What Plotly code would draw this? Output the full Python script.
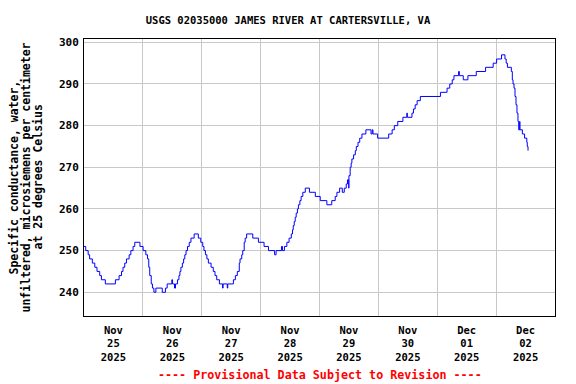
import pandas as pd
import plotly.graph_objects as go

# Hours after 2025-11-25 00:00 at which the reading changes, and the new reading (uS/cm)
hours = [0, 0.7, 1.7, 2.3, 3.4, 4.4, 5.3, 6.4, 7.1, 8.7, 12.8, 14.3, 15.3, 15.9, 16.6,
         17.3, 18.4, 19.1, 20.0, 20.7, 22.8, 24.1, 25.2, 25.9, 26.4, 26.8, 27.4, 27.9,
         28.5, 29.3, 31.9, 33.2, 33.9, 35.8, 36.1, 36.9, 37.3, 38.1, 38.7, 39.1, 39.5,
         40.1, 40.6, 41.1, 41.6, 42.2, 42.9, 43.6, 44.9, 46.6, 47.6, 48.4, 48.9, 49.5,
         50.1, 50.7, 51.8, 52.7, 53.4, 54.1, 55.2, 56.5, 56.7, 58.4, 58.6, 60.9, 61.7,
         62.5, 63.3, 63.6, 64.3, 64.7, 65.3, 65.7, 66.3, 68.8, 71.1, 73.4, 75.2, 77.7,
         78.3, 80.5, 80.9, 81.7, 82.7, 83.6, 84.5, 85.0, 85.3, 85.7, 86.1, 86.5, 87.0,
         87.4, 88.0, 88.5, 89.2, 90.2, 91.9, 94.3, 96.3, 99.0, 101.0, 102.4, 103.1,
         104.2, 105.3, 106.1, 106.9, 107.4, 107.9, 108.0, 108.5, 108.9, 109.2, 109.9,
         110.6, 111.0, 111.7, 112.4, 113.3, 114.9, 117.0, 117.5, 117.8, 119.7, 124.2,
         125.6, 126.5, 127.9, 130.0, 131.6, 131.8, 133.7, 134.3, 135.0, 135.8, 137.1,
         145.3, 148.0, 149.1, 150.1, 150.8, 152.7, 153.0, 154.6, 156.5, 159.9, 163.7,
         166.8, 168.2, 170.2, 171.6, 172.1, 172.6, 174.2, 174.6, 174.9, 175.3, 175.7,
         176.1, 176.5, 176.9, 177.2, 177.6, 177.7, 178.7, 179.6, 180.5, 180.7, 181.0]
values = [251, 250, 249, 248, 247, 246, 245, 244, 243, 242, 243, 244, 245, 246, 247,
          248, 249, 250, 251, 252, 251, 250, 249, 248, 246, 244, 242, 241,
          240, 241, 240, 241, 242, 243, 242, 241, 242, 243, 244, 245, 246,
          247, 248, 249, 250, 251, 252, 253, 254, 253, 252, 251, 250, 249,
          248, 247, 246, 245, 244, 243, 242, 241, 242, 241, 242, 243, 244,
          245, 247, 248, 249, 250, 252, 253, 254, 253, 252, 251, 250, 249,
          250, 251, 250, 251, 252, 253, 254, 255, 256, 257, 258, 259, 260,
          261, 262, 263, 264, 265, 264, 263, 262, 261, 262, 263, 264,
          265, 264, 265, 266, 267, 265, 268, 270, 271, 272, 273,
          274, 275, 276, 277, 278, 279, 278, 279, 278, 277, 278,
          279, 280, 281, 282, 283, 282, 283, 284, 285, 286, 287,
          288, 289, 290, 291, 292, 293, 292, 291, 292, 293, 294,
          295, 296, 297, 296, 295, 294, 293, 291, 290, 289, 287,
          285, 283, 281, 279, 281, 279, 278, 277, 276, 275, 274]

start = pd.Timestamp("2025-11-25 00:00")
times = [start + pd.Timedelta(hours=h) for h in hours]

y_ticks = [240, 250, 260, 270, 280, 290, 300]
x_range = ["2025-11-25 00:00", "2025-12-03 00:00"]
y_range = [234.3, 300.8]

title_text = "USGS 02035000 JAMES RIVER AT CARTERSVILLE, VA"
y_title_lines = ["Specific conductance, water,",
                 "unfiltered, microsiemens per centimeter",
                 "at 25 degrees Celsius"]
footnote = "---- Provisional Data Subject to Revision ----"

FONT = dict(family="DejaVu Sans Mono", size=10.5, color="black", weight="bold")
AXFONT = dict(family="DejaVu Sans Mono", size=11, color="black", weight="bold")
YTFONT = dict(family="DejaVu Sans Mono", size=11.5, color="black", weight="bold")

fig = go.Figure()
fig.add_trace(go.Scatter(x=times, y=values, mode="lines", line_shape="hv",
                         line=dict(color="#0000ff", width=1), showlegend=False,
                         hoverinfo="x+y"))

annotations = []
for i, line in enumerate(y_title_lines):
    annotations.append(dict(text=line, xref="paper", yref="paper", x=0, y=0.5,
                            xshift=-71 + 12 * i, xanchor="center", yanchor="middle",
                            textangle=-90, showarrow=False, font=YTFONT))
annotations.append(dict(text=footnote, xref="paper", yref="paper", x=0.5,
                        y=-(375 - 316) / 277, xanchor="center", yanchor="middle",
                        showarrow=False,
                        font=dict(family="DejaVu Sans Mono", size=11.7,
                                  color="#ff0000", weight="bold")))

fig.update_layout(
    width=576, height=384,
    margin=dict(l=84, r=21, t=39, b=68),
    paper_bgcolor="white", plot_bgcolor="white",
    font=FONT,
    title=dict(text=title_text, x=0.5, xref="container", xanchor="center",
               y=1 - 20 / 384, yref="container", yanchor="middle", font=FONT),
    xaxis=dict(range=x_range, type="date", dtick=86400000, tick0="2025-11-25",
               ticklabelmode="period", tickformat="%b<br>%d<br>%Y",
               showgrid=True, gridcolor="#c8c8c8", gridwidth=1,
               showline=True, linecolor="black", linewidth=1, mirror=True,
               ticks="", zeroline=False, tickfont=FONT, ticklabelstandoff=4,
               automargin=False),
    yaxis=dict(range=y_range, tickvals=y_ticks,
               showgrid=True, gridcolor="#c8c8c8", gridwidth=1,
               showline=True, linecolor="black", linewidth=1, mirror=True,
               ticks="", ticklen=0, zeroline=False, tickfont=AXFONT,
               ticklabelstandoff=2, automargin=False),
    annotations=annotations,
)

fig.write_html("out.html", post_script="document.body.style.margin='0';",
               config={"displayModeBar": False})
